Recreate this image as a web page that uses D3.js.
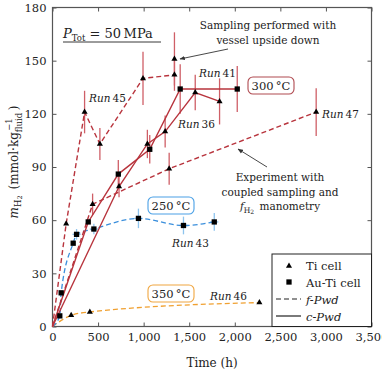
<!DOCTYPE html>
<html>
<head>
<meta charset="utf-8">
<script src="https://cdn.jsdelivr.net/npm/d3@7"></script>
<style>
  body { margin: 0; background: #fff; }
  svg { font-family: "DejaVu Serif", serif; }
</style>
</head>
<body>
<div id="chart"></div>
<script>
(function(){

  var width = 382, height = 374;

  // [time (h), mH2 (mmol/kg), error]
  var run45 = [[0,0,0],[150,58,0],[352,121,12],[520,103,9],[993,140,15],[1338,142,9]];
  var run45Upside = [[1338,151,15]];
  var run47 = [[0,0,0],[440,69,6],[1280,89,9],[2893,121,13.5]];
  var run36 = [[0,0,0],[730,79,6],[1041,103,8],[1236,110,9],[1566,132,10],[1833,127,13]];
  var run41 = [[0,0,0],[392,59,0],[722,86,8],[1067,100,8],[1401,134,14],[2027,134,13]];
  var run43 = [[0,0,0],[80,6,0],[95,19,0],[227,47,0],[264,52,3],[454,55,3],[943,61,5.5],[1437,57,5],[1775,59,5]];
  var run46 = [[0,0,0],[205,6.3,0],[410,8.2,0],[2270,13.5,0]];

  var xTicks = [0,500,1000,1500,2000,2500,3000,3500];
  var yTicks = [0,30,60,90,120,150,180];

  var red = "#b8343d", redErr = "#cf5f67";
  var blue = "#3b8fdc", blueErr = "#8ec4ee";
  var orange = "#f0a030";
  var font = "DejaVu Serif, serif";

  var x = d3.scaleLinear().domain([0,3500]).range([52.5,371.5]);
  var y = d3.scaleLinear().domain([0,180]).range([326.5,7.5]);

  var svg = d3.select("#chart").append("svg")
      .attr("width", width)
      .attr("height", height);

  // axes, ticks inward on all four sides
  var fmt = d3.format(",");
  var gx = svg.append("g").attr("transform","translate(0,326.5)")
      .call(d3.axisBottom(x).tickValues(xTicks).tickSize(-4).tickPadding(6).tickFormat(fmt));
  var gy = svg.append("g").attr("transform","translate(52.5,0)")
      .call(d3.axisLeft(y).tickValues(yTicks).tickSize(-4).tickPadding(6));
  var gt = svg.append("g").attr("transform","translate(0,7.5)")
      .call(d3.axisTop(x).tickValues(xTicks).tickSize(-4).tickFormat(""));
  var gr = svg.append("g").attr("transform","translate(371.5,0)")
      .call(d3.axisRight(y).tickValues(yTicks).tickSize(-4).tickFormat(""));
  [gx,gy,gt,gr].forEach(function(g){
    g.attr("font-family", font);
    g.select(".domain").remove();
    g.selectAll("line").attr("stroke","#555");
    g.selectAll("text").attr("font-size",11.5).attr("fill","#222");
  });
  svg.append("rect")
      .attr("x",52.5).attr("y",7.5).attr("width",319).attr("height",319)
      .attr("fill","none").attr("stroke","#555").attr("stroke-width",1.2);

  var line = d3.line().x(function(d){ return x(d[0]); }).y(function(d){ return y(d[1]); });
  var smooth = d3.line().curve(d3.curveMonotoneX)
      .x(function(d){ return x(d[0]); }).y(function(d){ return y(d[1]); });

  function vErr(data, color, hw) {
    data.filter(function(d){ return d[2] > 0; }).forEach(function(d){
      svg.append("line")
        .attr("x1",x(d[0])).attr("x2",x(d[0]))
        .attr("y1",y(d[1]-d[2])).attr("y2",y(d[1]+d[2]))
        .attr("stroke",color).attr("stroke-width",1.3);
      if (hw) {
        svg.append("line")
          .attr("x1",x(d[0]-hw)).attr("x2",x(d[0]+hw))
          .attr("y1",y(d[1])).attr("y2",y(d[1]))
          .attr("stroke",color).attr("stroke-width",1.3);
      }
    });
  }

  function path(data, gen, color, dash, w) {
    svg.append("path").datum(data)
      .attr("d", gen)
      .attr("fill","none")
      .attr("stroke",color)
      .attr("stroke-width",w || 1.4)
      .attr("stroke-dasharray",dash || null);
  }

  var tri = d3.symbol(d3.symbolTriangle).size(16);
  var sq = d3.symbol(d3.symbolSquare).size(28);

  function marks(data, sym) {
    svg.selectAll(null).data(data.filter(function(d){ return d[0] > 0; }))
      .enter().append("path")
      .attr("d", sym)
      .attr("transform", function(d){ return "translate(" + x(d[0]) + "," + y(d[1]) + ")"; })
      .attr("fill","#000");
  }

  // error bars
  vErr(run45, redErr); vErr(run45Upside, redErr); vErr(run47, redErr);
  vErr(run36, redErr); vErr(run41, redErr);
  vErr(run43, blueErr, 45);

  // lines
  path(run46, smooth, orange, "5,3", 1.3);
  path(run43, smooth, blue, "5,3", 1.3);
  path(run45, line, red, "5,3");
  path(run47, line, red, "5,3");
  path(run36, line, red);
  path(run41, line, red);

  // markers
  marks(run45, tri); marks(run45Upside, tri); marks(run47, tri);
  marks(run36, tri); marks(run46, tri);
  marks(run41, sq); marks(run43, sq);

  // run labels
  function runLabel(px, py, num) {
    var t = svg.append("text").attr("x",px).attr("y",py).attr("font-size",10.5).attr("fill","#222");
    t.append("tspan").attr("font-style","italic").text("Run");
    t.append("tspan").text("\u2009" + num);
  }
  runLabel(89, 102, "45");
  runLabel(199, 77, "41");
  runLabel(178, 128, "36");
  runLabel(322, 118, "47");
  runLabel(172, 247, "43");
  runLabel(210, 300, "46");

  // temperature boxes
  function tempBox(bx, by, color, label) {
    svg.append("rect").attr("x",bx).attr("y",by).attr("width",46).attr("height",17)
      .attr("rx",5).attr("fill","#fff").attr("stroke",color).attr("stroke-width",1.1);
    svg.append("text").attr("x",bx+23).attr("y",by+13).attr("text-anchor","middle")
      .attr("font-size",11.5).attr("fill","#222").text(label);
  }
  tempBox(248, 77, "#b04a50", "300\u2009\u00b0C");
  tempBox(148, 197, "#4aa0e6", "250\u2009\u00b0C");
  tempBox(148, 285, "#f0a640", "350\u2009\u00b0C");

  // pressure
  var pt = svg.append("text").attr("x",63).attr("y",38).attr("font-size",13).attr("fill","#222");
  pt.append("tspan").attr("font-style","italic").text("P");
  pt.append("tspan").attr("dy",3).attr("font-size",8.5).text("Tot");
  pt.append("tspan").attr("dy",-3).text(" = 50\u2009MPa");
  svg.append("line").attr("x1",63).attr("x2",161).attr("y1",42).attr("y2",42)
    .attr("stroke","#222").attr("stroke-width",0.9);

  // annotations with arrows
  svg.append("defs").append("marker")
      .attr("id","ah").attr("viewBox","0 0 10 10").attr("refX",9).attr("refY",5)
      .attr("markerWidth",6).attr("markerHeight",6).attr("orient","auto")
    .append("path").attr("d","M0,1 L10,5 L0,9 z").attr("fill","#333");

  function note(cx, lines0, top) {
    lines0.forEach(function(s, i){
      svg.append("text").attr("x",cx).attr("y",top + i*15).attr("text-anchor","middle")
        .attr("font-size",10.5).attr("fill","#222").text(s);
    });
  }
  note(268, ["Sampling performed with","vessel upside down"], 29);
  svg.append("line").attr("x1",228).attr("y1",49).attr("x2",180).attr("y2",59)
    .attr("stroke","#333").attr("stroke-width",0.9).attr("marker-end","url(#ah)");

  note(280, ["Experiment with","coupled sampling and"], 181);
  var fm = svg.append("text").attr("x",280).attr("y",210).attr("text-anchor","middle")
    .attr("font-size",10.5).attr("fill","#222");
  fm.append("tspan").attr("font-style","italic").text("f");
  fm.append("tspan").attr("dy",3).attr("font-size",7.5).text("H");
  fm.append("tspan").attr("dy",1).attr("font-size",6).text("2");
  fm.append("tspan").attr("dy",-4).text("\u2002manometry");
  svg.append("line").attr("x1",267).attr("y1",167).attr("x2",238).attr("y2",149)
    .attr("stroke","#333").attr("stroke-width",0.9).attr("marker-end","url(#ah)");

  // axis titles
  svg.append("text").attr("x",212).attr("y",367).attr("text-anchor","middle")
    .attr("font-size",12).attr("fill","#222").text("Time (h)");

  var yl = svg.append("text").attr("transform","translate(18,162) rotate(-90)")
    .attr("text-anchor","middle").attr("font-size",12).attr("fill","#222");
  yl.append("tspan").attr("font-style","italic").text("m");
  yl.append("tspan").attr("dy",3).attr("font-size",8.5).text("H");
  yl.append("tspan").attr("dy",1).attr("font-size",6.5).text("2");
  yl.append("tspan").attr("dy",-4).text("\u2002(mmol\u00b7kg");
  yl.append("tspan").attr("dy",4).attr("font-size",8.5).text("fluid");
  yl.append("tspan").attr("dx",-18).attr("dy",-10).attr("font-size",8.5).text("\u22121");
  yl.append("tspan").attr("dx",8).attr("dy",6).text(")");

  // legend
  var lg = svg.append("g");
  lg.append("rect").attr("x",272).attr("y",254).attr("width",99.5).attr("height",72.5)
    .attr("fill","#fff").attr("stroke","#222").attr("stroke-width",1);
  lg.append("path").attr("d",tri).attr("transform","translate(289,266)").attr("fill","#000");
  lg.append("path").attr("d",sq).attr("transform","translate(289,282)").attr("fill","#000");
  lg.append("line").attr("x1",276).attr("x2",301).attr("y1",299).attr("y2",299)
    .attr("stroke","#222").attr("stroke-width",1.2).attr("stroke-dasharray","5,3");
  lg.append("line").attr("x1",276).attr("x2",301).attr("y1",316).attr("y2",316)
    .attr("stroke","#222").attr("stroke-width",1.2);
  var legTxt = ["Ti cell","Au-Ti cell","f-Pwd","c-Pwd"];
  legTxt.forEach(function(s, i){
    lg.append("text").attr("x",306).attr("y",270 + i*17).attr("font-size",11.5).attr("fill","#222")
      .attr("font-style", i > 1 ? "italic" : null).text(s);
  });

})();
</script>
</body>
</html>
